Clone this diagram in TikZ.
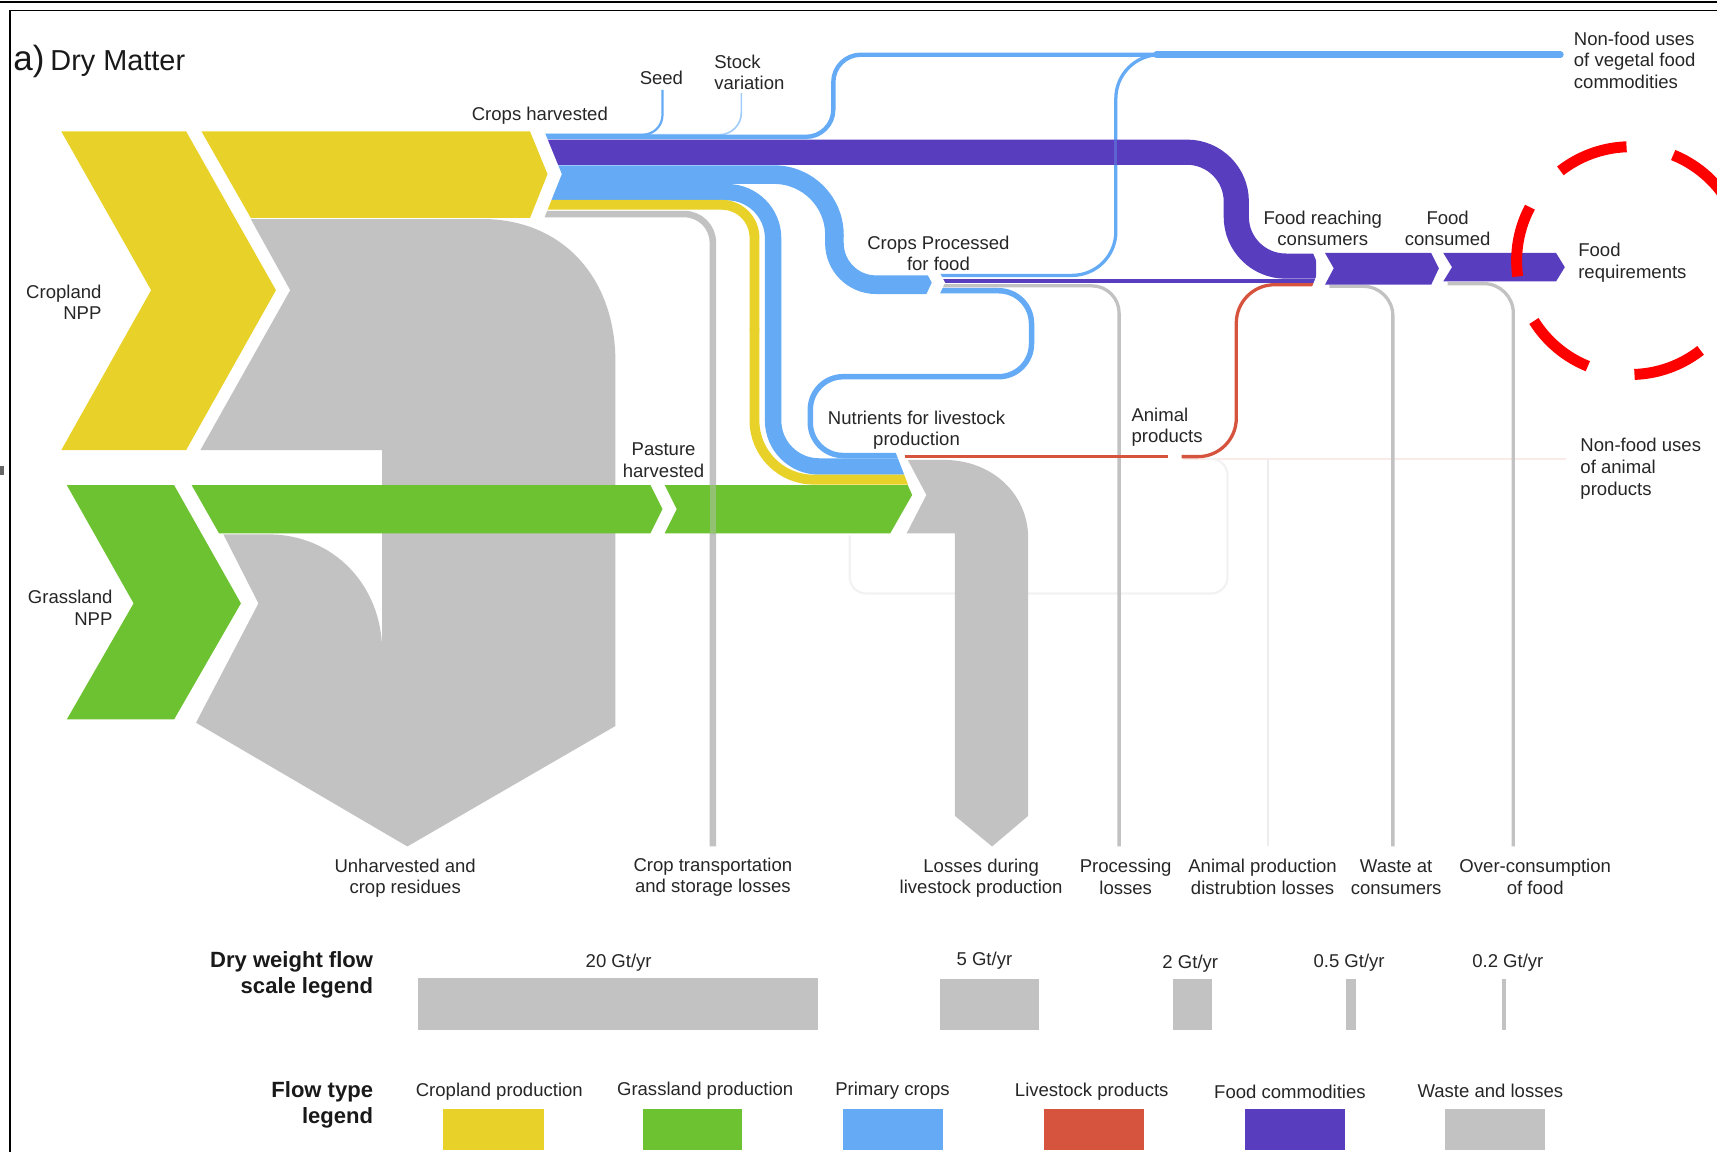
\documentclass[tikz,border=0pt]{standalone}
\usepackage{fontspec}
\setmainfont{Liberation Sans}
\definecolor{cropyellow}{RGB}{232,210,42}
\definecolor{grassgreen}{RGB}{108,194,48}
\definecolor{primblue}{RGB}{100,170,245}
\definecolor{livered}{RGB}{214,84,62}
\definecolor{foodpurple}{RGB}{88,62,190}
\definecolor{lossgray}{RGB}{194,194,194}
\def\pw{0.22mm}

\begin{document}
\begin{tikzpicture}[x=0.22mm,y=-0.22mm,
  lbl/.style={font=\fontsize{10.6}{12.4}\selectfont, text=black!85, inner sep=0pt},
  hd/.style={font=\fontsize{12.6}{15}\selectfont\bfseries, text=black!90, inner sep=0pt, align=right, anchor=east},
  flow/.style={line width=#1*\pw}]
\clip (0,0) rectangle (1568,1052);

\fill[lossgray] (229,200) -- (440,200) .. controls (515,200) and (562,255) .. (562,330) -- (562,663) -- (372,773) -- (179,660) -- (236,551) -- (204,488) -- (245,488) .. controls (305,488) and (349,535) .. (349,595) -- (349,411) -- (183,411) -- (265,265) -- cycle;

\draw[livered!12, flow=2] (1080,419) -- (1430,419);
\draw[black!7, flow=2] (1158,419) -- (1158,773);
\draw[black!5, flow=2, rounded corners=15*\pw] (1100,419) -- (1121,419) -- (1121,542) -- (776,542) -- (776,489);

\draw[primblue!60, flow=1.5, rounded corners=20*\pw] (488,123) -- (677,123) -- (677,85);
\draw[primblue, flow=2, rounded corners=18*\pw] (488,123) -- (605,123) -- (605,82);
\draw[primblue, flow=4, rounded corners=25*\pw] (488,125) -- (761,125) -- (761,50) -- (1060,50);
\draw[primblue, flow=3, rounded corners=40*\pw] (852,251.5) -- (1019,251.5) -- (1019,50) -- (1060,50);
\draw[primblue, flow=6, line cap=round] (1056,50) -- (1425,50);
\draw[foodpurple, flow=23, rounded corners=45*\pw] (488,139) -- (1129,139) -- (1129,243) -- (1202,243);
\draw[primblue, opacity=.35, flow=3] (1019,127) -- (1019,151);
\draw[primblue, flow=17, rounded corners=55*\pw] (488,159.5) -- (762,159.5) -- (762,216);
\draw[primblue, flow=17, rounded corners=38*\pw] (762,214) -- (762,260) -- (852,260);
\draw[primblue, flow=15, rounded corners=42*\pw] (488,175.5) -- (706,175.5) -- (706,426) -- (838,426);
\draw[cropyellow, flow=9, rounded corners=30*\pw] (488,187) -- (689,187) -- (689,302);
\draw[cropyellow, flow=9, rounded corners=54*\pw] (689,300) -- (689,438) -- (838,438);
\draw[lossgray, flow=6, rounded corners=26*\pw] (488,195.5) -- (651,195.5) -- (651,773);

\draw[foodpurple, flow=4] (852,256.5) -- (1202,256.5);
\draw[lossgray, flow=3, rounded corners=25*\pw] (852,261) -- (1022,261) -- (1022,773);
\draw[primblue, flow=5, rounded corners=30*\pw] (852,265.5) -- (942,265.5) -- (942,344) -- (740,344) -- (740,416) -- (838,416);

\fill[white] (478,115) -- (498,159) -- (478,204) -- (495,204) -- (513,159) -- (495,115) -- cycle;
\fill[white] (845,247) -- (851,258) -- (845,271) -- (857,271) -- (863,258) -- (857,247) -- cycle;
\fill[white] (816,408) -- (833,452) -- (850,452) -- (850,408) -- cycle;

\fill[cropyellow] (56,120) -- (170,120) -- (252,265) -- (170,411) -- (56,411) -- (138,265) -- cycle;
\fill[cropyellow] (184,120) -- (484,120) -- (500,159) -- (484,199) -- (229,199) -- cycle;
\fill[grassgreen] (61,443) -- (159,443) -- (220,551) -- (159,657) -- (61,657) -- (122,551) -- cycle;
\fill[grassgreen] (175,443) -- (594,443) -- (605,465) -- (594,487) -- (200,487) -- cycle;
\fill[grassgreen] (607,443) -- (829,443) -- (833,452) -- (813,487) -- (607,487) -- (618,465) -- cycle;
\draw[lossgray, opacity=.45, flow=6] (651,443) -- (651,487);

\fill[lossgray] (829,420) -- (862,420) .. controls (905,420) and (939,450) .. (939,492) -- (939,745) -- (906,773) -- (872,745) -- (872,487) -- (828,487) -- (846,452) -- cycle;
\draw[livered, flow=3] (826,417) -- (1067,417);
\draw[livered, flow=3, rounded corners=35*\pw] (1079,417) -- (1129,417) -- (1129,260) -- (1202,260);

\fill[white] (1197,226) -- (1205,245) -- (1197,265) -- (1213,265) -- (1213,226) -- cycle;
\draw[lossgray, flow=3, rounded corners=27*\pw] (1214,261.5) -- (1272,261.5) -- (1272,773);
\draw[lossgray, flow=3, rounded corners=27*\pw] (1322,259) -- (1382,259) -- (1382,773);
\fill[foodpurple] (1210,231) -- (1307,231) -- (1314,245) -- (1307,260) -- (1210,260) -- (1218,245) -- cycle;
\fill[foodpurple] (1318,231) -- (1421,231) -- (1429,244) -- (1421,257) -- (1318,257) -- (1326,244) -- cycle;

\node[anchor=base west, inner sep=0pt, text=black!90] (title) at (12,64) {\fontsize{20}{20}\selectfont a)\,\fontsize{16.5}{16.5}\selectfont Dry Matter};
\node[lbl] (harv) at (493,106) {Crops harvested};
\node[lbl] (seed) at (604,71) {Seed};
\node[lbl, align=left, anchor=west] (stock) at (652,66) {Stock\\variation};
\node[lbl, align=left, anchor=west] (nfveg) at (1437,55) {Non-food uses\\of vegetal food\\commodities};
\node[lbl, align=right, anchor=east] (cnpp) at (93,276) {Cropland\\NPP};
\node[lbl, align=right, anchor=east] (gnpp) at (103,555) {Grassland\\NPP};
\node[lbl, align=center] (proc) at (857,231.5) {Crops Processed\\for food};
\node[lbl, align=center] (reach) at (1208,208.5) {Food reaching\\consumers};
\node[lbl, align=center] (cons) at (1322,208.5) {Food\\consumed};
\node[lbl, align=left, anchor=west] (req) at (1441,240) {Food\\requirements};
\node[lbl, align=center] (nutr) at (837,393) {Nutrients for livestock\\production};
\node[lbl, align=left, anchor=west] (anim) at (1033,390) {Animal\\products};
\node[lbl, align=center] (past) at (606,420) {Pasture\\harvested};
\node[lbl, align=left, anchor=west] (nfani) at (1443,428) {Non-food uses\\of animal\\products};

\node[lbl, align=center] (resid) at (370,802) {Unharvested and\\crop residues};
\node[lbl, align=center] (trans) at (651,801) {Crop transportation\\and storage losses};
\node[lbl, align=center] (lstock) at (896,802) {Losses during\\livestock production};
\node[lbl, align=center] (ploss) at (1028,801) {Processing\\losses};
\node[lbl, align=center] (dist) at (1153,801) {Animal production\\distrubtion losses};
\node[lbl, align=center] (waste) at (1275,801) {Waste at\\consumers};
\node[lbl, align=center] (over) at (1402,801) {Over-consumption\\of food};

\node[hd] (scaleh) at (341,890) {Dry weight flow\\scale legend};
\fill[lossgray] (382,893) rectangle (747,941);
\fill[lossgray] (858,894) rectangle (949,941);
\fill[lossgray] (1071,894) rectangle (1107,941);
\fill[lossgray] (1229,894) rectangle (1238,941);
\fill[lossgray] (1372,894) rectangle (1375,941);
\node[lbl] (s20) at (565,879) {20 Gt/yr};
\node[lbl] (s5) at (899,877) {5 Gt/yr};
\node[lbl] (s2) at (1087,880) {2 Gt/yr};
\node[lbl] (s05) at (1232,879) {0.5 Gt/yr};
\node[lbl] (s02) at (1377,879) {0.2 Gt/yr};

\node[hd] (typeh) at (341,1009) {Flow type\\legend};
\fill[cropyellow] (405,1013) rectangle (497,1050);
\fill[grassgreen] (587,1013) rectangle (678,1050);
\fill[primblue] (770,1013) rectangle (861,1050);
\fill[livered] (953,1013) rectangle (1045,1050);
\fill[foodpurple] (1137,1013) rectangle (1228,1050);
\fill[lossgray] (1320,1013) rectangle (1411,1050);
\node[lbl] (lcrop) at (456,997) {Cropland production};
\node[lbl] (lgrass) at (644,996) {Grassland production};
\node[lbl] (lprim) at (815,996) {Primary crops};
\node[lbl] (lliv) at (997,997) {Livestock products};
\node[lbl] (lfood) at (1178,997) {Food commodities};
\node[lbl] (lloss) at (1361,996) {Waste and losses};

\foreach \a in {-8,52,112,172,232,292}
  \draw[red, line width=10*\pw] (1489,238) ++(\a:104) arc[start angle=\a, delta angle=36, radius=104];

\draw[black, line width=2*\pw] (0,2) -- (1568,2);
\draw[black, line width=1.5*\pw] (9,1052) -- (9,9.5) -- (1568,9.5);
\fill[black!60] (0,426) rectangle (4,434);
\end{tikzpicture}
\end{document}
